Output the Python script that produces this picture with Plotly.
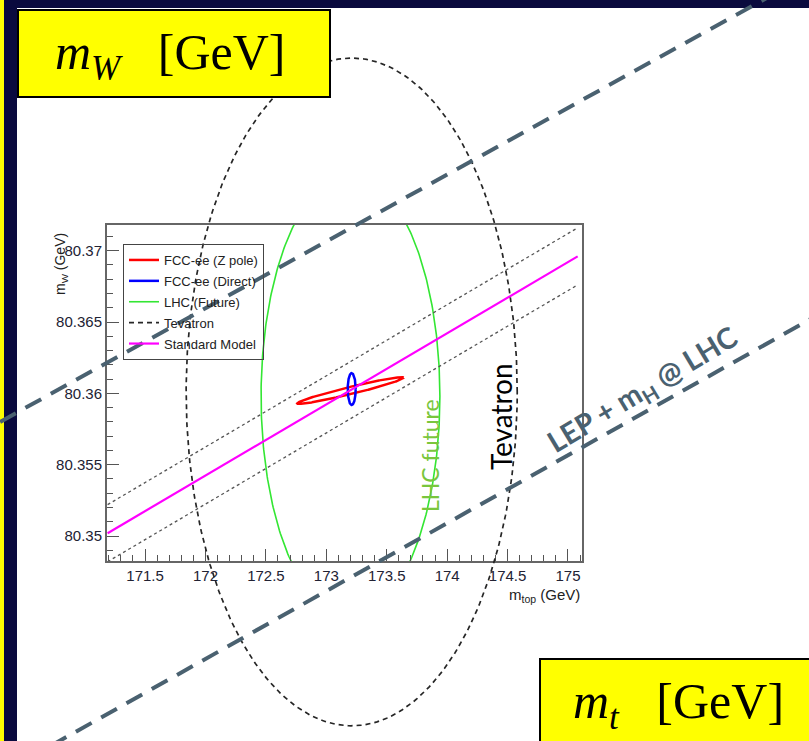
import numpy as np
import plotly.graph_objects as go

W, H = 809, 741

# ---- data (m_top in GeV, m_W in GeV) ----
sm_mt = [171.19, 175.08]
sm_mw = [80.3502, 80.3696]
band_up_mw = [80.3522, 80.3716]
band_lo_mw = [80.3482, 80.3676]

zpole_center = [173.20, 80.3602]
zpole_major = [0.44, 0.0009]      # half-extent along the long axis (dmt, dmw)
zpole_minor = [0.0, 0.00026]

direct_center = [173.21, 80.3603]
direct_semi = [0.033, 0.00112]

lhc_center = [173.20, 80.3598]
lhc_semi = [0.74, 0.0155]

tev_center = [173.21, 80.3601]
tev_semi = [1.37, 0.0234]

lep_upper_mt = [170.30, 177.09]
lep_upper_mw = [80.3580, 80.3898]
lep_lower_mt = [170.30, 177.09]
lep_lower_mw = [80.3333, 80.3656]

xtick_vals = [171.5, 172, 172.5, 173, 173.5, 174, 174.5, 175]
xtick_text = ["171.5", "172", "172.5", "173", "173.5", "174", "174.5", "175"]
ytick_vals = [80.35, 80.355, 80.36, 80.365, 80.37]
ytick_text = ["80.35", "80.355", "80.36", "80.365", "80.37"]

x_range = [171.185, 175.116]
y_range = [80.34825, 80.3718]

# ---- page geometry (pixels) ----
IN_L, IN_R, IN_T, IN_B = 107, 582, 225, 561


def px(x):
    return x / W


def py(y):
    return 1 - y / H


# full-page axes sharing the inner plot's GeV scale
sx = (x_range[1] - x_range[0]) / (IN_R - IN_L)
sy = (y_range[1] - y_range[0]) / (IN_B - IN_T)
x2_range = [x_range[0] - IN_L * sx, x_range[0] + (W - IN_L) * sx]
y2_range = [y_range[0] - (H - IN_B) * sy, y_range[1] + IN_T * sy]

t = np.linspace(0, 2 * np.pi, 400)


def ellipse(c, s):
    return c[0] + s[0] * np.cos(t), c[1] + s[1] * np.sin(t)


fig = go.Figure()

# FCC-ee Z pole: tilted ellipse along the SM line
zx = zpole_center[0] + zpole_major[0] * np.cos(t) + zpole_minor[0] * np.sin(t)
zy = zpole_center[1] + zpole_major[1] * np.cos(t) + zpole_minor[1] * np.sin(t)
fig.add_trace(go.Scatter(x=zx, y=zy, mode="lines", name="FCC-ee (Z pole)",
                         legendgroup="a",
                         line=dict(color="#ff0000", width=2.5)))

dx, dy = ellipse(direct_center, direct_semi)
fig.add_trace(go.Scatter(x=dx, y=dy, mode="lines", name="FCC-ee (Direct)",
                         legendgroup="b",
                         line=dict(color="#0000ff", width=2.5)))

lx, ly = ellipse(lhc_center, lhc_semi)
fig.add_trace(go.Scatter(x=lx, y=ly, mode="lines", name="LHC (Future)",
                         legendgroup="c",
                         line=dict(color="#33e633", width=1.6)))

tx, ty = ellipse(tev_center, tev_semi)
fig.add_trace(go.Scatter(x=tx, y=ty, mode="lines", name="Tevatron",
                         legendgroup="d", xaxis="x2", yaxis="y2",
                         line=dict(color="#262626", width=1.7, dash="5px,4px")))

fig.add_trace(go.Scatter(x=sm_mt, y=sm_mw, mode="lines", name="Standard Model",
                         legendgroup="e",
                         line=dict(color="#ff00ff", width=2.2)))

for band in (band_up_mw, band_lo_mw):
    fig.add_trace(go.Scatter(x=sm_mt, y=band, mode="lines", showlegend=False,
                             line=dict(color="#555555", width=1.3, dash="3px,3px")))

for mt, mw in ((lep_upper_mt, lep_upper_mw), (lep_lower_mt, lep_lower_mw)):
    fig.add_trace(go.Scatter(x=mt, y=mw, mode="lines", showlegend=False,
                             xaxis="x2", yaxis="y2",
                             line=dict(color="#4a6170", width=4, dash="18px,11px")))

axis_font = dict(family="Liberation Sans, Arial, sans-serif", size=15, color="#222233")

fig.update_layout(
    width=W, height=H,
    margin=dict(l=0, r=0, t=0, b=0),
    paper_bgcolor="#0a0a3e",
    plot_bgcolor="rgba(0,0,0,0)",
    xaxis=dict(domain=[px(IN_L), px(IN_R)], range=x_range,
               tickmode="array", tickvals=xtick_vals, ticktext=xtick_text,
               ticks="inside", ticklen=12, tickcolor="#555", tickwidth=1.2,
               minor=dict(dtick=0.1, tick0=171.5, ticks="inside", ticklen=6,
                          tickcolor="#555", tickwidth=1.2),
               showgrid=False, zeroline=False, showline=True, linecolor="#666",
               linewidth=2, mirror=True, tickfont=axis_font),
    yaxis=dict(domain=[py(IN_B), py(IN_T)], range=y_range,
               tickmode="array", tickvals=ytick_vals, ticktext=ytick_text,
               ticks="inside", ticklen=12, tickcolor="#555", tickwidth=1.2,
               minor=dict(dtick=0.001, tick0=80.35, ticks="inside", ticklen=6,
                          tickcolor="#555", tickwidth=1.2),
               showgrid=False, zeroline=False, showline=True, linecolor="#666",
               linewidth=2, mirror=True, tickfont=axis_font),
    xaxis2=dict(domain=[0, 1], range=x2_range, anchor="y2", visible=False),
    yaxis2=dict(domain=[0, 1], range=y2_range, anchor="x2", visible=False),
    showlegend=True,
    legend=dict(x=px(123), y=py(244), xanchor="left", yanchor="top",
                bgcolor="rgba(255,255,255,0)", bordercolor="#444", borderwidth=1,
                font=dict(family="Liberation Sans, Arial, sans-serif", size=13,
                          color="#222"),
                traceorder="grouped", tracegroupgap=1),
)

shapes = [
    # slide background pieces
    dict(type="rect", xref="paper", yref="paper", x0=0, x1=px(4), y0=0, y1=1,
         fillcolor="#ffff00", line=dict(width=0), layer="below"),
    dict(type="rect", xref="paper", yref="paper", x0=px(17), x1=1, y0=0, y1=py(8),
         fillcolor="white", line=dict(width=0), layer="below"),
    # label boxes
    dict(type="rect", xref="paper", yref="paper", x0=px(18), x1=px(330),
         y0=py(97), y1=py(10), fillcolor="#ffff00",
         line=dict(color="black", width=2), layer="above"),
    dict(type="rect", xref="paper", yref="paper", x0=px(540), x1=px(815),
         y0=py(748), y1=py(659), fillcolor="#ffff00",
         line=dict(color="black", width=2), layer="above"),
]
fig.update_layout(shapes=shapes)

serif = "Liberation Serif, Times New Roman, serif"
sans = "Lato, Open Sans, sans-serif"
label_font = "Liberation Sans, Arial, sans-serif"
annotations = [
    dict(text="<i>m</i><sub><i>W</i></sub>&nbsp;&nbsp; [GeV]", x=px(170), y=py(56),
         font=dict(family=serif, size=50, color="black")),
    dict(text="<i>m</i><sub><i>t</i></sub>&nbsp;&nbsp; [GeV]", x=px(678), y=py(705),
         font=dict(family=serif, size=50, color="black")),
    dict(text="m<sub>W</sub> (GeV)", x=px(61), y=py(264), textangle=-90,
         font=dict(family=label_font, size=14, color="#222")),
    dict(text="m<sub>top</sub> (GeV)", x=px(582), y=py(595), xanchor="right",
         font=dict(family=label_font, size=15, color="#222")),
    dict(text="Tevatron", x=px(501), y=py(417), textangle=-90,
         font=dict(family=sans, size=28, color="black")),
    dict(text="LHC future", x=px(430), y=py(456), textangle=-90,
         font=dict(family=sans, size=23, color="#7ac63c")),
    dict(text="<b>LEP + m<sub>H</sub> @ LHC</b>", x=px(642), y=py(390), textangle=-31,
         font=dict(family=sans, size=29, color="#4a6170")),
]
for a in annotations:
    a.setdefault("xanchor", "center")
    a.setdefault("yanchor", "middle")
    a.update(xref="paper", yref="paper", showarrow=False)
fig.update_layout(annotations=annotations)

fig.write_html("out.html")
